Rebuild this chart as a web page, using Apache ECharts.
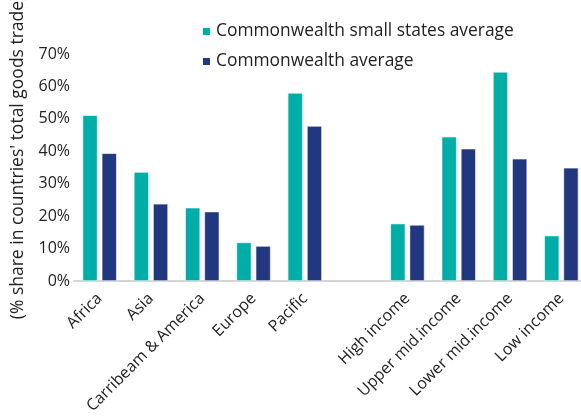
<!DOCTYPE html>
<html>
<head>
<meta charset="utf-8">
<script src="https://cdn.jsdelivr.net/npm/echarts@6/dist/echarts.min.js"></script>
<style>html,body{margin:0;padding:0;background:#fff}#c{width:581px;height:416px}</style>
</head>
<body>
<div id="c"></div>
<script>
var categories = ['Africa', 'Asia', 'Carribeam & America', 'Europe', 'Pacific', '', 'High income', 'Upper mid.income', 'Lower mid.income', 'Low income'];
var smallStates = [51.1, 33.6, 22.6, 11.9, 58.0, null, 17.7, 44.5, 64.5, 14.0];
var commonwealth = [39.4, 23.8, 21.4, 10.8, 47.8, null, 17.3, 40.8, 37.7, 34.9];
var seriesNames = ['Commonwealth small states average', 'Commonwealth average'];
var yTicks = [0, 10, 20, 30, 40, 50, 60, 70];

var FONT = 'Open Sans';
var chart = echarts.init(document.getElementById('c'));
chart.setOption({
  animation: false,
  textStyle: { fontFamily: FONT },
  legend: {
    orient: 'vertical',
    left: 196,
    top: 18,
    itemWidth: 9,
    itemHeight: 9,
    itemGap: 13,
    icon: 'rect',
    textStyle: { fontFamily: FONT, fontSize: 17.4, color: '#222' },
    data: seriesNames
  },
  grid: { left: 74, top: 54, bottom: 135, width: 513, containLabel: false, outerBoundsMode: 'none' },
  xAxis: {
    type: 'category',
    data: categories,
    axisLine: { lineStyle: { color: '#c8c8c8', width: 1.5 } },
    axisTick: { show: false },
    axisLabel: { rotate: 45, interval: 0, fontSize: 16, color: '#222', margin: 15, fontFamily: FONT }
  },
  yAxis: {
    type: 'value',
    min: yTicks[0],
    max: yTicks[yTicks.length - 1],
    interval: 10,
    name: "(% share in countries' total goods trade)",
    nameLocation: 'middle',
    nameGap: 47,
    nameTextStyle: { fontSize: 17.5, color: '#222', fontFamily: FONT, padding: [0, 0, 0, 20] },
    axisLine: { show: false },
    axisTick: { show: false },
    splitLine: { show: false },
    axisLabel: { formatter: '{value}%', fontSize: 16, color: '#222', margin: 4, fontFamily: FONT }
  },
  series: [
    { name: seriesNames[0], type: 'bar', data: smallStates, barWidth: 15, barGap: '28%',
      itemStyle: { color: '#00ada7', borderColor: '#ffffff', borderWidth: 0.6 } },
    { name: seriesNames[1], type: 'bar', data: commonwealth, barWidth: 15,
      itemStyle: { color: '#213780', borderColor: '#ffffff', borderWidth: 0.6 } }
  ]
});
</script>
</body>
</html>
